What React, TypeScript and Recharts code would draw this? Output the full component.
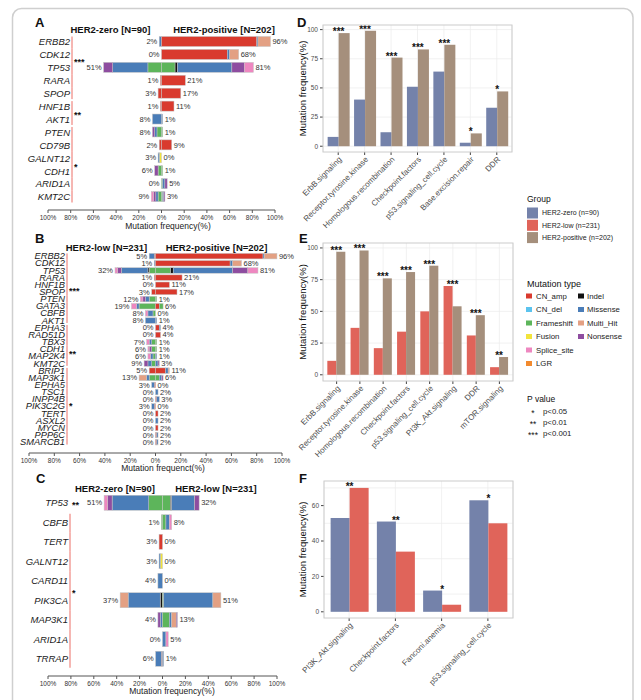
import React from "react";
import { BarChart, Bar, XAxis, YAxis, CartesianGrid } from "recharts";

type Mut =
  | "CN_amp" | "CN_del" | "Fusion" | "Frameshift" | "Indel"
  | "Missense" | "Multi_Hit" | "Nonsense" | "Splice_site" | "LGR";
type Comp = Partial<Record<Mut, number>>;
type Bracket = { from: number; to: number; mark: string; at: number; line?: boolean };

// stacking order, from the centre line outwards
const ORDER: Mut[] = ["CN_amp", "CN_del", "Fusion", "Frameshift", "Indel", "Missense", "Multi_Hit", "Nonsense", "Splice_site", "LGR"];
const MUT_COLOR: Record<Mut, string> = {
  CN_amp: "#D93A2E",
  CN_del: "#5BC3EE",
  Fusion: "#F2E43C",
  Frameshift: "#5DB55B",
  Indel: "#111111",
  Missense: "#4A7DB8",
  Multi_Hit: "#E3A083",
  Nonsense: "#8E4DA0",
  Splice_site: "#EE87C0",
  LGR: "#F28A2E",
};
const legendColA: Mut[] = ["CN_amp", "CN_del", "Frameshift", "Fusion", "Splice_site", "LGR"];
const legendColB: Mut[] = ["Indel", "Missense", "Multi_Hit", "Nonsense"];

const GROUP_COLOR = { zero: "#7482AA", low: "#E0645A", pos: "#A58F7C" };
const groupLabels = ["HER2-zero (n=90)", "HER2-low (n=231)", "HER2-positive (n=202)"];
const pLabels: [string, string][] = [["*", "p<0.05"], ["**", "p<0.01"], ["***", "p<0.001"]];

const PCT_TICKS = [-100, -80, -60, -40, -20, 0, 20, 40, 60, 80, 100];

// ---- panel A : HER2-zero vs HER2-positive
const genesA = ["ERBB2", "CDK12", "TP53", "RARA", "SPOP", "HNF1B", "AKT1", "PTEN", "CD79B", "GALNT12", "CDH1", "ARID1A", "KMT2C"];
const zeroA: Comp[] = [
  { Missense: 2 }, {}, { Frameshift: 12, Missense: 31, Nonsense: 8 }, { CN_amp: 1 }, { CN_amp: 3 },
  { CN_amp: 1 }, { Missense: 8 }, { Frameshift: 4, Missense: 2, Nonsense: 2 }, { CN_amp: 2 },
  { Fusion: 2, Missense: 1 }, { Frameshift: 3, Nonsense: 3 }, {},
  { Frameshift: 3, Missense: 2, Nonsense: 2, Splice_site: 2 },
];
const posA: Comp[] = [
  { CN_amp: 84, Missense: 1, Multi_Hit: 11 }, { CN_amp: 58, Missense: 2, Multi_Hit: 8 },
  { Frameshift: 12, Indel: 2, Missense: 48, Nonsense: 11, Splice_site: 8 }, { CN_amp: 21 }, { CN_amp: 17 },
  { CN_amp: 11 }, { Missense: 1 }, { Frameshift: 1 }, { CN_amp: 9 }, {}, { Frameshift: 1 },
  { Frameshift: 1, Missense: 2, Nonsense: 2 }, { Frameshift: 1, Missense: 1, Nonsense: 1 },
];
const bracketsA: Bracket[] = [
  { from: 0, to: 4, mark: "***", at: 1.4 },
  { from: 5, to: 6, mark: "**", at: 5.5 },
  { from: 7, to: 12, mark: "*", at: 9.5 },
];

// ---- panel B : HER2-low vs HER2-positive
const genesB = ["ERBB2", "CDK12", "TP53", "RARA", "HNF1B", "SPOP", "PTEN", "GATA3", "CBFB", "AKT1", "EPHA3", "RAD51D", "TBX3", "CDH1", "MAP2K4", "KMT2C", "BRIP1", "MAP3K1", "EPHA5", "TSC1", "INPP4B", "PIK3C2G", "TERT", "ASXL2", "MYCN", "PPP6C", "SMARCB1"];
const lowB: Comp[] = [
  { CN_amp: 1, Missense: 4 }, { Missense: 1 }, { Frameshift: 5, Indel: 1, Missense: 21, Nonsense: 3, Splice_site: 2 },
  { CN_amp: 1 }, {}, { CN_amp: 3 }, { Frameshift: 5, Missense: 3, Nonsense: 2, Splice_site: 2 },
  { Frameshift: 13, Missense: 2, Splice_site: 4 }, { Frameshift: 2, Missense: 4, Splice_site: 2 }, { Missense: 8 },
  {}, {}, { Frameshift: 3, Missense: 2, Splice_site: 2 }, { Frameshift: 3, Nonsense: 2, Splice_site: 1 },
  { Frameshift: 2, Missense: 2, Splice_site: 2 }, { Frameshift: 3, Missense: 3, Nonsense: 3 }, { CN_amp: 5 },
  { Frameshift: 5, Missense: 2, Multi_Hit: 6 }, { CN_amp: 1, Missense: 2 }, {}, {}, { CN_amp: 1, Missense: 2 },
  {}, {}, {}, {}, {},
];
const posB: Comp[] = [
  { CN_amp: 85, Missense: 1, Multi_Hit: 10 }, { CN_amp: 59, Missense: 2, Multi_Hit: 7 },
  { Frameshift: 12, Indel: 2, Missense: 47, Nonsense: 12, Splice_site: 8 }, { CN_amp: 21 }, { CN_amp: 11 },
  { CN_amp: 17 }, { Frameshift: 1 }, { CN_amp: 3, Frameshift: 3 }, {}, { Missense: 1 },
  { CN_amp: 3, Missense: 1 }, { CN_amp: 4 }, { Frameshift: 1 }, { Frameshift: 1 }, { Missense: 1 },
  { Missense: 2, Nonsense: 1 }, { CN_amp: 8, Missense: 2, Multi_Hit: 1 }, { Frameshift: 3, Missense: 2, Nonsense: 1 },
  {}, { Missense: 2 }, { CN_amp: 1, Missense: 2 }, {}, { CN_amp: 2 }, { Missense: 2 }, { CN_amp: 2 },
  { CN_amp: 1, Missense: 1 }, { CN_amp: 1, Missense: 1 },
];
const bracketsB: Bracket[] = [
  { from: 0, to: 9, mark: "***", at: 4.6 },
  { from: 10, to: 15, mark: "**", at: 13.4 },
  { from: 16, to: 26, mark: "*", at: 20.6 },
];

// ---- panel C : HER2-zero vs HER2-low
const genesC = ["TP53", "CBFB", "TERT", "GALNT12", "CARD11", "PIK3CA", "MAP3K1", "ARID1A", "TRRAP"];
const zeroC: Comp[] = [
  { Frameshift: 12, Missense: 32, Nonsense: 4, Splice_site: 3 }, { Frameshift: 1 }, { CN_amp: 3 },
  { Fusion: 2, Missense: 1 }, { Missense: 4 }, { Indel: 2, Missense: 28, Multi_Hit: 7 },
  { Missense: 2, Nonsense: 2 }, {}, { CN_amp: 1, Missense: 5 },
];
const lowC: Comp[] = [
  { Frameshift: 7, Indel: 1, Missense: 20, Nonsense: 4 }, { Frameshift: 3, Missense: 3, Splice_site: 2 },
  {}, {}, {}, { Frameshift: 1, Missense: 43, Multi_Hit: 7 },
  { Frameshift: 6, Missense: 2, Multi_Hit: 4, Nonsense: 1 }, { Missense: 3, Splice_site: 2 }, { Missense: 1 },
];
const bracketsC: Bracket[] = [
  { from: 0, to: 0, mark: "**", at: 0, line: false },
  { from: 1, to: 8, mark: "*", at: 4.5 },
];

// ---- panel D
const pathwaysD = ["ErbB.signaling", "Receptor.tyrosine.kinase", "Homologous.recombination", "Checkpoint.factors", "p53.signaling_cell.cycle", "Base.excision.repair", "DDR"];
const zeroD = [8, 40, 12, 51, 64, 3, 33];
const posD = [97, 99, 76, 83, 87, 11, 47];
const starsD = ["***", "***", "***", "***", "***", "*", "*"];

// ---- panel E
const pathwaysE = ["ErbB.signaling", "Receptor.tyrosine.kinase", "Homologous.recombination", "Checkpoint.factors", "p53.signaling_cell.cycle", "PI3K_Akt.signaling", "DDR", "mTOR.signaling"];
const lowE = [11, 37, 21, 34, 50, 70, 31, 6];
const posE = [97, 98, 76, 81, 86, 54, 47, 14];
const starsE = ["***", "***", "***", "***", "***", "***", "***", "**"];

// ---- panel F
const pathwaysF = ["PI3K_Akt.signaling", "Checkpoint.factors", "Fanconi.anemia", "p53.signaling_cell.cycle"];
const zeroF = [53, 51, 12, 63];
const lowF = [70, 34, 4, 50];
const starsF = ["**", "**", "*", "*"];

type ButterflyProps = {
  genes: string[]; left: Comp[]; right: Comp[]; brackets: Bracket[];
  plotTop: number; axisY: number; padBottom: number; plotLeft: number; plotRight: number;
  barSize: number; labelRight: number; bracketX: number; geneFont: number;
};

function Butterfly(p: ButterflyProps) {
  const n = p.genes.length;
  const rowH = (p.axisY - p.padBottom - p.plotTop) / n;
  const rows = p.genes.map((g, i) => {
    const r: any = { gene: g };
    let lc: Mut = ORDER[0], rc: Mut = ORDER[0], lt = 0, rt = 0;
    ORDER.forEach((t) => {
      const lv = p.left[i][t] || 0;
      const rv = p.right[i][t] || 0;
      r["L_" + t] = -lv;
      r["R_" + t] = rv;
      if (lv) lc = t;
      if (rv) rc = t;
      lt += lv;
      rt += rv;
    });
    r.Lc = lc; r.Rc = rc; r.Lt = lt; r.Rt = rt;
    return r;
  });
  const width = p.plotRight + 40;
  const height = p.axisY + 25;

  const shape = (side: "L" | "R", t: Mut) => (s: any) => {
    const { x, y, width: w0, height: h, payload } = s;
    const lo = Math.min(x, x + w0);
    const w = Math.abs(w0);
    const show = payload[side + "c"] === t;
    return (
      <g>
        {w > 0.05 && (
          <rect x={lo} y={y} width={w} height={h} fill={MUT_COLOR[t]} stroke="#c4c4c4" strokeWidth={0.5} />
        )}
        {show && (
          <text x={side === "L" ? lo - 2 : lo + w + 2} y={y + h / 2} dy="0.35em"
            textAnchor={side === "L" ? "end" : "start"} fontSize={7.5} fill="#333">
            {payload[side + "t"]}%
          </text>
        )}
      </g>
    );
  };

  const geneTick = (tp: any) => {
    const name = tp.payload.value;
    const i = p.genes.indexOf(name);
    const y = tp.y;
    const parts: React.ReactNode[] = [
      <text key="g" x={p.labelRight} y={y} dy="0.35em" textAnchor="end"
        style={{ fontStyle: "italic" }} fontSize={p.geneFont} fill="#1a1a1a">{name}</text>,
    ];
    p.brackets.forEach((b, k) => {
      if (i < b.from || i > b.to) return;
      if (b.line !== false) {
        const y0 = y - rowH / 2 + (i === b.from ? 1 : 0);
        const y1 = y + rowH / 2 - (i === b.to ? 1 : 0);
        parts.push(<line key={"l" + k} x1={p.bracketX} x2={p.bracketX} y1={y0} y2={y1} stroke="#EC6F66" strokeWidth={1} />);
      }
      if (i === b.from) {
        parts.push(
          <text key={"s" + k} x={p.bracketX + 2} y={y + (b.at - b.from) * rowH} dy="0.6em"
            fontSize={9} fontWeight="bold" fill="#111">{b.mark}</text>
        );
      }
    });
    return <g>{parts}</g>;
  };

  return (
    <div style={{ position: "absolute", left: 0, top: 0 }}>
      <BarChart width={width} height={height} data={rows} layout="vertical" stackOffset="sign"
        barSize={p.barSize} margin={{ top: p.plotTop, right: width - p.plotRight, bottom: 5, left: 0 }}>
        <XAxis type="number" domain={[-100, 100]} ticks={PCT_TICKS} height={20}
          tickFormatter={(v: number) => Math.abs(v) + "%"} tickSize={3} tickMargin={2}
          tick={{ fontSize: 6.5, fill: "#333" }} axisLine={{ stroke: "#555" }} tickLine={{ stroke: "#555" }} />
        <YAxis type="category" dataKey="gene" width={p.plotLeft} interval={0} axisLine={false}
          tickLine={false} padding={{ top: 0, bottom: p.padBottom }} tick={geneTick} />
        {ORDER.map((t) => (
          <Bar key={"L" + t} dataKey={"L_" + t} stackId="s" fill={MUT_COLOR[t]} shape={shape("L", t)} isAnimationActive={false} />
        ))}
        {ORDER.map((t) => (
          <Bar key={"R" + t} dataKey={"R_" + t} stackId="s" fill={MUT_COLOR[t]} shape={shape("R", t)} isAnimationActive={false} />
        ))}
      </BarChart>
    </div>
  );
}

const PLOT_L = 323;

type GroupProps = {
  cats: string[]; a: number[]; b: number[]; ca: string; cb: string; stars: string[];
  plotTop: number; plotBottom: number; plotLeft: number; plotRight: number;
  domain: [number, number]; ticks: number[]; grid: number[];
};

function GroupBars(p: GroupProps) {
  const rows = p.cats.map((c, i) => ({ cat: c, a: p.a[i], b: p.b[i] }));
  const xh = 80;
  const height = p.plotBottom + xh;
  const shape = (which: "a" | "b", color: string) => (s: any) => {
    const { x, y, width, height: h, index } = s;
    const va = p.a[index], vb = p.b[index];
    const showStar = which === "a" ? va >= vb : vb > va;
    return (
      <g>
        <rect x={x} y={y} width={width} height={h} fill={color} />
        {showStar && (
          <text x={which === "a" ? x + width : x} y={y + 2} textAnchor="middle" fontSize={10}
            fontWeight="bold" fill="#111">{p.stars[index]}</text>
        )}
      </g>
    );
  };
  const rotTick = (tp: any) => (
    <g transform={`translate(${tp.x},${tp.y})`}>
      <text transform="rotate(-45)" x={0} y={0} dy="0.7em" textAnchor="end" fontSize={8} fill="#4d4d4d">
        {tp.payload.value}
      </text>
    </g>
  );
  return (
    <div style={{ position: "absolute", left: 0, top: 0 }}>
      <BarChart width={641} height={height} data={rows} barCategoryGap="10%" barGap={0}
        margin={{ top: p.plotTop, right: 641 - p.plotRight, bottom: 0, left: p.plotLeft - 20 }}>
        <CartesianGrid stroke="#ebebeb" strokeWidth={0.7} horizontalValues={p.grid} />
        <XAxis dataKey="cat" interval={0} height={xh} tickSize={3} tickMargin={1} axisLine={false}
          tickLine={{ stroke: "#444" }} tick={rotTick} padding={{ left: 2, right: 2 }} />
        <YAxis type="number" domain={p.domain} ticks={p.ticks} width={20} tickSize={3}
          tickMargin={2} axisLine={false} tickLine={{ stroke: "#444" }} tick={{ fontSize: 6.5, fill: "#4d4d4d" }} />
        <Bar dataKey="a" fill={p.ca} shape={shape("a", p.ca)} isAnimationActive={false} />
        <Bar dataKey="b" fill={p.cb} shape={shape("b", p.cb)} isAnimationActive={false} />
      </BarChart>
    </div>
  );
}

const gridD = [0, 12.5, 25, 37.5, 50, 62.5, 75, 87.5, 100];
const gridF = [0, 10, 20, 30, 40, 50, 60, 70];

export default function App() {
  const mutRows = [0, 1, 2, 3, 4, 5];
  return (
    <div style={{ position: "fixed", left: 0, top: 0, width: 641, height: 700, overflow: "hidden", background: "#fff", fontFamily: "'Liberation Sans', Arial, sans-serif" }}>
      <svg width={641} height={700} style={{ position: "absolute", left: 0, top: 0 }}>
        <rect x={12.5} y={8.5} width={620.5} height={730} rx={9} fill="none" stroke="#cfcfcf" strokeWidth={1.5} />
      </svg>

      <Butterfly genes={genesA} left={zeroA} right={posA} brackets={bracketsA}
        plotTop={35.5} axisY={210} padBottom={6.5} plotLeft={48} plotRight={275}
        barSize={10} labelRight={70} bracketX={72} geneFont={9.5} />
      <Butterfly genes={genesB} left={lowB} right={posB} brackets={bracketsB}
        plotTop={252.4} axisY={453} padBottom={7.4} plotLeft={29} plotRight={282}
        barSize={5.5} labelRight={65} bracketX={67} geneFont={9.3} />
      <Butterfly genes={genesC} left={zeroC} right={lowC} brackets={bracketsC}
        plotTop={493.25} axisY={676} padBottom={7.25} plotLeft={48} plotRight={277}
        barSize={15} labelRight={68} bracketX={70} geneFont={9.5} />

      <GroupBars cats={pathwaysD} a={zeroD} b={posD} ca={GROUP_COLOR.zero} cb={GROUP_COLOR.pos} stars={starsD}
        plotTop={25} plotBottom={152} plotLeft={PLOT_L} plotRight={512}
        domain={[-4.95, 103.95]} ticks={[0, 25, 50, 75, 100]} grid={gridD} />
      <GroupBars cats={pathwaysE} a={lowE} b={posE} ca={GROUP_COLOR.low} cb={GROUP_COLOR.pos} stars={starsE}
        plotTop={243} plotBottom={381} plotLeft={PLOT_L} plotRight={513}
        domain={[-4.9, 103.9]} ticks={[0, 25, 50, 75, 100]} grid={gridD} />
      <GroupBars cats={pathwaysF} a={zeroF} b={lowF} ca={GROUP_COLOR.zero} cb={GROUP_COLOR.low} stars={starsF}
        plotTop={481} plotBottom={618} plotLeft={324} plotRight={513}
        domain={[-3.5, 73.9]} ticks={[0, 20, 40, 60]} grid={gridF} />

      <svg width={641} height={700} style={{ position: "absolute", left: 0, top: 0, pointerEvents: "none" }}>
        <g fontWeight="bold" fontSize={13} fill="#111">
          <text x={35} y={27}>A</text>
          <text x={35} y={243}>B</text>
          <text x={36} y={483}>C</text>
          <text x={297} y={27}>D</text>
          <text x={299} y={243}>E</text>
          <text x={299} y={483}>F</text>
        </g>
        <g fontWeight="bold" fontSize={9.5} fill="#111" textAnchor="middle">
          <text x={110.5} y={33}>HER2-zero [N=90]</text>
          <text x={224} y={33}>HER2-positive [N=202]</text>
          <text x={106.5} y={251}>HER2-low [N=231]</text>
          <text x={216.5} y={251}>HER2-positive [N=202]</text>
          <text x={115} y={492}>HER2-zero [N=90]</text>
          <text x={216} y={492}>HER2-low [N=231]</text>
        </g>
        <g fontSize={8.5} fill="#222" textAnchor="middle">
          <text x={168} y={229}>Mutation frequency(%)</text>
          <text x={163} y={471}>Mutation frequenct(%)</text>
          <text x={172} y={694}>Mutation frequency(%)</text>
        </g>
        <g fontSize={9.5} fill="#111" textAnchor="middle">
          <text transform="translate(306,88.5) rotate(-90)">Mutation frequency(%)</text>
          <text transform="translate(306,312) rotate(-90)">Mutation frequency(%)</text>
          <text transform="translate(306,549.5) rotate(-90)">Mutation frequency(%)</text>
        </g>
        <g fill="none" stroke="#cccccc" strokeWidth={1}>
          <rect x={323} y={25} width={189} height={127} />
          <rect x={323} y={243} width={190} height={138} />
          <rect x={324} y={481} width={189} height={137} />
        </g>

        <text x={527} y={202} fontSize={8.5} fill="#111">Group</text>
        {[GROUP_COLOR.zero, GROUP_COLOR.low, GROUP_COLOR.pos].map((c, i) => (
          <g key={"grp" + i}>
            <rect x={527} y={207.5 + i * 12.3} width={11} height={11} fill={c} />
            <text x={542} y={213 + i * 12.3} dy="0.35em" fontSize={7} fill="#222">{groupLabels[i]}</text>
          </g>
        ))}

        <text x={527} y={287} fontSize={9} fill="#111">Mutation type</text>
        {mutRows.map((r) => (
          <g key={"mt" + r}>
            {legendColA[r] && (
              <g>
                <rect x={526} y={296 + r * 13.5 - 2.5} width={6} height={5} fill={MUT_COLOR[legendColA[r]]} />
                <text x={536} y={296 + r * 13.5} dy="0.35em" fontSize={7.8} fill="#222">{legendColA[r]}</text>
              </g>
            )}
            {legendColB[r] && (
              <g>
                <rect x={578} y={296 + r * 13.5 - 2.5} width={6} height={5} fill={MUT_COLOR[legendColB[r]]} />
                <text x={587} y={296 + r * 13.5} dy="0.35em" fontSize={7.8} fill="#222">{legendColB[r]}</text>
              </g>
            )}
          </g>
        ))}

        <text x={527} y={402} fontSize={8.5} fill="#111">P value</text>
        {pLabels.map(([s, t], i) => (
          <g key={"pv" + i}>
            <text x={533} y={411 + i * 11} dy="0.55em" textAnchor="middle" fontSize={8.5} fill="#111">{s}</text>
            <text x={543} y={411 + i * 11} dy="0.35em" fontSize={7.8} fill="#222">{t}</text>
          </g>
        ))}
      </svg>
    </div>
  );
}
